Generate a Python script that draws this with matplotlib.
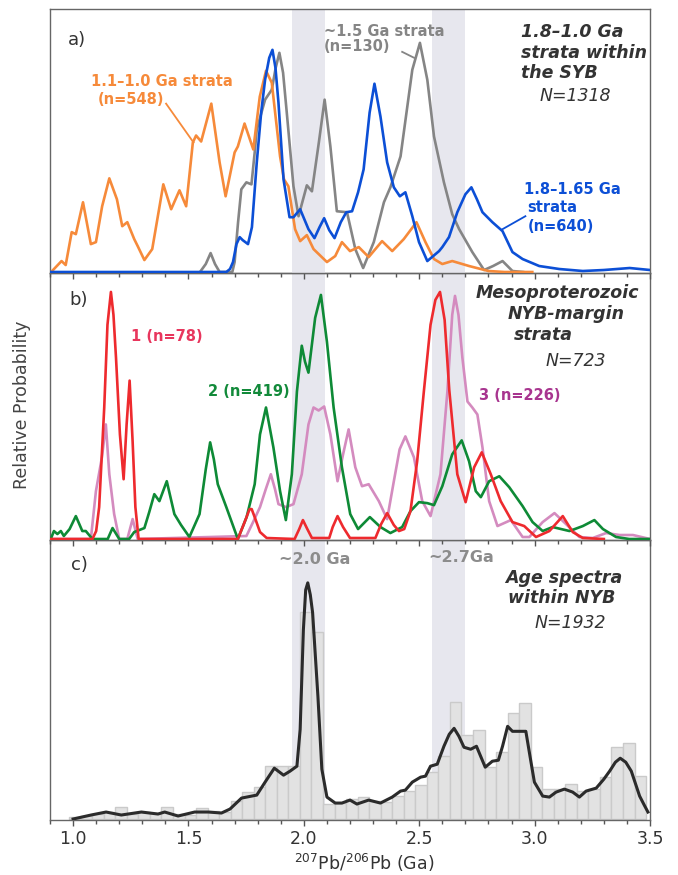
import matplotlib
matplotlib.use('Agg')
import matplotlib.pyplot as plt
from matplotlib.ticker import MultipleLocator

plt.rcParams['font.family'] = ['DejaVu Sans']
plt.rcParams['mathtext.default'] = 'regular'

# ---- panel a) 1.8-1.0 Ga strata within the SYB ----
a_orange_age = [0.905, 0.95, 0.968, 0.994, 1.012, 1.043, 1.077, 1.099, 1.126, 1.157, 1.19, 1.213, 1.235,
                1.265, 1.28, 1.309, 1.343, 1.391, 1.425, 1.461, 1.49, 1.519, 1.533, 1.555, 1.599, 1.635,
                1.661, 1.70, 1.714, 1.743, 1.781, 1.809, 1.836, 1.861, 1.897, 1.914, 1.933, 1.962, 1.984,
                2.013, 2.042, 2.10, 2.136, 2.165, 2.20, 2.238, 2.281, 2.339, 2.383, 2.433, 2.488, 2.527,
                2.564, 2.60, 2.643, 2.716, 2.80, 2.87, 2.99]
a_orange_val = [0, 11, 7, 40, 38, 70, 28, 30, 66, 94, 73, 46, 50,
                33, 26, 12, 23, 88, 63, 82, 66, 130, 137, 131, 169, 110,
                76, 120, 126, 149, 123, 176, 202, 190, 116, 93, 86, 43, 31,
                37, 23, 10, 16, 30, 21, 25, 15, 31, 21, 33, 50, 30,
                13, 8, 11, 6, 1, 0, 0]

a_gray_age = [1.55, 1.575, 1.596, 1.615, 1.635, 1.69, 1.70, 1.715, 1.729, 1.751, 1.773, 1.787, 1.796,
              1.832, 1.861, 1.878, 1.894, 1.91, 1.926, 1.955, 1.977, 2.013, 2.035, 2.065, 2.09, 2.115,
              2.143, 2.187, 2.223, 2.257, 2.303, 2.347, 2.375, 2.419, 2.47, 2.503, 2.535, 2.564, 2.607,
              2.643, 2.673, 2.73, 2.781, 2.82, 2.861, 2.904, 2.95]
a_gray_val = [0, 8, 19, 8, 0, 0, 10, 50, 83, 90, 88, 120, 143,
              173, 183, 205, 220, 200, 160, 86, 56, 87, 81, 130, 173, 126,
              61, 60, 23, 4, 30, 70, 85, 116, 203, 230, 193, 136, 90,
              58, 43, 20, 2, 6, 11, 1, 0]

a_blue_age = [0.905, 1.664, 1.68, 1.693, 1.708, 1.722, 1.735, 1.758, 1.775, 1.796, 1.815, 1.832, 1.85,
              1.864, 1.877, 1.89, 1.912, 1.938, 1.955, 1.984, 2.02, 2.046, 2.068, 2.088, 2.11, 2.133,
              2.16, 2.184, 2.209, 2.235, 2.259, 2.285, 2.306, 2.332, 2.361, 2.39, 2.416, 2.44, 2.47,
              2.499, 2.535, 2.586, 2.60, 2.629, 2.665, 2.70, 2.726, 2.75, 2.774, 2.817, 2.861, 2.904,
              2.948, 3.02, 3.107, 3.209, 3.30, 3.412, 3.50]
a_blue_val = [0, 0, 3, 10, 28, 35, 32, 28, 45, 110, 160, 193, 215,
              223, 205, 170, 93, 55, 55, 63, 43, 34, 45, 54, 42, 34,
              50, 60, 61, 80, 103, 160, 189, 156, 110, 85, 76, 80, 56,
              30, 11, 21, 25, 35, 60, 78, 85, 73, 60, 50, 41, 20,
              13, 6, 3, 1, 2, 4, 2]

# ---- panel b) Mesoproterozoic NYB-margin strata ----
b_red_age = [0.905, 1.084, 1.10, 1.113, 1.135, 1.149, 1.164, 1.175, 1.186, 1.203, 1.219, 1.232, 1.245,
             1.258, 1.27, 1.284, 1.714, 1.74, 1.765, 1.774, 1.79, 1.81, 1.839, 1.96, 1.98, 1.996,
             2.015, 2.035, 2.11, 2.125, 2.146, 2.17, 2.20, 2.31, 2.335, 2.361, 2.39, 2.412, 2.435,
             2.462, 2.491, 2.52, 2.549, 2.57, 2.59, 2.61, 2.63, 2.665, 2.701, 2.738, 2.771, 2.81,
             2.853, 2.904, 2.955, 3.006, 3.064, 3.122, 3.165, 3.209, 3.30]
b_red_val = [0, 0, 8, 32, 132, 215, 248, 225, 182, 105, 60, 115, 159,
             98, 32, 0, 0, 15, 30, 30, 20, 7, 1, 0, 10, 19,
             10, 1, 1, 12, 23, 12, 1, 1, 15, 26, 14, 8, 10,
             28, 78, 148, 215, 240, 248, 220, 150, 65, 37, 72, 87, 65,
             38, 17, 13, 2, 8, 23, 7, 1, 0]

b_green_age = [0.905, 0.917, 0.932, 0.947, 0.96, 0.985, 1.012, 1.04, 1.055, 1.084, 1.15, 1.171, 1.20,
               1.243, 1.265, 1.287, 1.309, 1.33, 1.352, 1.374, 1.406, 1.439, 1.468, 1.504, 1.548, 1.575,
               1.594, 1.61, 1.627, 1.664, 1.714, 1.752, 1.787, 1.81, 1.836, 1.868, 1.897, 1.922, 1.948,
               1.97, 1.991, 2.005, 2.02, 2.049, 2.074, 2.10, 2.129, 2.165, 2.201, 2.235, 2.286, 2.332,
               2.375, 2.426, 2.462, 2.499, 2.535, 2.564, 2.60, 2.643, 2.684, 2.716, 2.745, 2.767, 2.803,
               2.847, 2.89, 2.948, 2.991, 3.035, 3.078, 3.151, 3.209, 3.259, 3.296, 3.353, 3.41, 3.50]
b_green_val = [1, 8, 5, 8, 3, 10, 23, 8, 8, 0, 0, 11, 0,
               0, 7, 9, 11, 27, 45, 38, 58, 25, 14, 2, 25, 70,
               97, 80, 55, 32, 0, 22, 55, 105, 132, 92, 48, 19, 65,
               148, 194, 178, 167, 222, 245, 198, 132, 72, 25, 10, 22, 12,
               6, 12, 28, 37, 36, 34, 53, 85, 99, 78, 48, 42, 58,
               63, 52, 33, 17, 8, 12, 8, 13, 19, 10, 2, 0, 0]

b_pink_age = [0.905, 1.077, 1.099, 1.125, 1.142, 1.157, 1.178, 1.20, 1.235, 1.258, 1.28, 1.751, 1.78,
              1.81, 1.835, 1.857, 1.875, 1.89, 1.923, 1.955, 1.991, 2.02, 2.042, 2.064, 2.088, 2.115,
              2.146, 2.17, 2.194, 2.223, 2.252, 2.281, 2.325, 2.361, 2.39, 2.415, 2.44, 2.477, 2.513,
              2.549, 2.592, 2.622, 2.643, 2.655, 2.67, 2.687, 2.709, 2.73, 2.752, 2.774, 2.803, 2.839,
              2.897, 2.948, 2.977, 3.035, 3.086, 3.136, 3.194, 3.252, 3.31, 3.368, 3.426, 3.50]
b_pink_val = [0, 0, 48, 82, 115, 65, 25, 0, 0, 20, 0, 3, 17,
              32, 50, 65, 50, 35, 32, 35, 65, 115, 132, 129, 133, 105,
              58, 85, 110, 72, 53, 55, 38, 20, 58, 90, 103, 82, 38,
              23, 65, 148, 225, 244, 225, 182, 138, 132, 125, 92, 38, 13,
              19, 2, 2, 17, 26, 15, 2, 1, 6, 4, 4, 0]

# ---- panel c) Age spectra within NYB ----
c_curve_age = [1.0, 1.078, 1.143, 1.209, 1.296, 1.368, 1.397, 1.455, 1.527, 1.586, 1.643, 1.68, 1.73,
               1.796, 1.832, 1.872, 1.912, 1.94, 1.97, 1.984, 1.998, 2.008, 2.017, 2.028, 2.038, 2.061,
               2.078, 2.10, 2.136, 2.165, 2.20, 2.23, 2.281, 2.332, 2.383, 2.419, 2.44, 2.47, 2.506,
               2.527, 2.549, 2.578, 2.607, 2.63, 2.651, 2.672, 2.694, 2.723, 2.748, 2.786, 2.817, 2.843,
               2.861, 2.883, 2.904, 2.933, 2.962, 2.98, 2.999, 3.035, 3.064, 3.093, 3.129, 3.165, 3.194,
               3.223, 3.267, 3.30, 3.325, 3.35, 3.371, 3.395, 3.419, 3.455, 3.475, 3.491]
c_curve_val = [0, 4, 7, 4, 7, 5, 7, 3, 7, 7, 6, 10, 21,
               24, 37, 51, 44, 48, 53, 90, 190, 230, 237, 225, 207, 123,
               50, 22, 16, 16, 19, 15, 19, 16, 22, 28, 29, 37, 42,
               43, 53, 55, 73, 85, 91, 83, 72, 70, 73, 52, 58, 59,
               73, 93, 88, 88, 88, 63, 37, 23, 22, 27, 30, 27, 22,
               28, 31, 40, 48, 57, 61, 57, 48, 23, 14, 7]

c_bin_centers = [1.008 + 0.05 * i for i in range(50)]
c_bin_counts = [2, 3, 5, 7, 12, 5, 7, 6, 12, 5,
                4, 11, 8, 7, 18, 27, 32, 53, 53, 53,
                208, 188, 15, 16, 20, 22, 18, 17, 23, 28,
                34, 47, 63, 117, 84, 89, 52, 67, 106, 116,
                52, 30, 30, 35, 28, 30, 42, 72, 76, 43]

bands = [(1.95, 2.09), (2.555, 2.70)]

W, H = 678, 875
fig = plt.figure(figsize=(W / 100, H / 100), dpi=100)


def px_axes(top, bottom, left=50, right=650):
    return fig.add_axes([left / W, 1 - bottom / H, (right - left) / W, (bottom - top) / H])


axA = px_axes(9, 273)
axB = px_axes(273, 540)
axC = px_axes(540, 820)
tops = [264, 267, 280]

for ax, top in zip([axA, axB, axC], tops):
    ax.set_xlim(0.9, 3.5)
    ax.set_ylim(-1, top)
    for lo, hi in bands:
        ax.axvspan(lo, hi, color='#e7e7ee', lw=0, zorder=0)
    ax.set_yticks([])
    ax.xaxis.set_major_locator(MultipleLocator(0.5))
    ax.xaxis.set_minor_locator(MultipleLocator(0.1))
    ax.tick_params(axis='x', which='major', direction='out', length=4.5, width=1, color='#555555',
                   labelsize=12.5, labelcolor='#333333', pad=3)
    ax.tick_params(axis='x', which='minor', direction='out', length=3, width=1, color='#555555')
    for s in ax.spines.values():
        s.set_color('#666666')
        s.set_linewidth(1)
    ax.patch.set_alpha(0)

axA.tick_params(labelbottom=False)
axB.tick_params(labelbottom=False)
axA.set_zorder(3)
axB.set_zorder(2)
axC.set_zorder(1)

lw = 1.9
axA.plot(a_orange_age, a_orange_val, color='#f68a3a', lw=lw, solid_joinstyle='round', zorder=3)
axA.plot(a_gray_age, a_gray_val, color='#858585', lw=lw, solid_joinstyle='round', zorder=2)
axA.plot(a_blue_age, a_blue_val, color='#0c4fd6', lw=lw, solid_joinstyle='round', zorder=4)

axB.plot(b_pink_age, b_pink_val, color='#d48bbf', lw=lw, solid_joinstyle='round', zorder=2)
axB.plot(b_green_age, b_green_val, color='#0e8a36', lw=lw, solid_joinstyle='round', zorder=3)
axB.plot(b_red_age, b_red_val, color='#ee2a2e', lw=lw, solid_joinstyle='round', zorder=4)

axC.bar(c_bin_centers, c_bin_counts, width=0.05, color='#e2e2e2', edgecolor='#cacaca', lw=1, zorder=1)
axC.plot(c_curve_age, c_curve_val, color='#2b2b2b', lw=2.2, solid_joinstyle='round', zorder=3)

dark = '#333333'
lab = 10.5
big = 12.5
# panel a text
axA.text(0.978, 233, 'a)', fontsize=13, color=dark, va='center')
axA.text(1.383, 191, '1.1\u20131.0 Ga strata', fontsize=lab, fontweight='bold', color='#f68a3a',
         ha='center', va='center')
axA.text(1.252, 173, '(n=548)', fontsize=lab, fontweight='bold', color='#f68a3a', ha='center', va='center')
axA.plot([1.403, 1.522], [169, 130], color='#f68a3a', lw=1.3)
axA.text(2.087, 241, '~1.5 Ga strata', fontsize=lab, fontweight='bold', color='#858585', va='center')
axA.text(2.087, 226, '(n=130)', fontsize=lab, fontweight='bold', color='#858585', va='center')
axA.plot([2.426, 2.478], [221, 215], color='#858585', lw=1.3)
axA.text(2.955, 83, '1.8\u20131.65 Ga', fontsize=lab, fontweight='bold', color='#0c4fd6', va='center')
axA.text(2.97, 65, 'strata', fontsize=lab, fontweight='bold', color='#0c4fd6', va='center')
axA.text(2.97, 46, '(n=640)', fontsize=lab, fontweight='bold', color='#0c4fd6', va='center')
axA.plot([2.96, 2.861], [56, 43], color='#0c4fd6', lw=1.3)
for txt, h in [('1.8\u20131.0 Ga', 241), ('strata within', 220), ('the SYB', 200)]:
    axA.text(2.94, h, txt, fontsize=big, fontweight='bold', fontstyle='italic', color=dark, va='center')
axA.text(3.02, 177, 'N=1318', fontsize=big, fontstyle='italic', color=dark, va='center')

# panel b text
axB.text(0.983, 240, 'b)', fontsize=13, color=dark, va='center')
axB.text(1.251, 203, '1 (n=78)', fontsize=lab, fontweight='bold', color='#e8365d', va='center')
axB.text(1.586, 148, '2 (n=419)', fontsize=lab, fontweight='bold', color='#128a3a', va='center')
axB.text(2.76, 144, '3 (n=226)', fontsize=lab, fontweight='bold', color='#a8358f', va='center')
axB.text(2.745, 247, 'Mesoproterozoic', fontsize=big, fontweight='bold', fontstyle='italic', color=dark,
         va='center')
axB.text(2.883, 226, 'NYB-margin', fontsize=big, fontweight='bold', fontstyle='italic', color=dark, va='center')
axB.text(2.912, 205, 'strata', fontsize=big, fontweight='bold', fontstyle='italic', color=dark, va='center')
axB.text(3.048, 179, 'N=723', fontsize=big, fontstyle='italic', color=dark, va='center')

# panel c text
axC.text(0.991, 255, 'c)', fontsize=13, color=dark, va='center')
axC.text(2.048, 260, '~2.0 Ga', fontsize=11.5, fontweight='bold', color='#8c8c8c', ha='center', va='center')
axC.text(2.683, 262, '~2.7Ga', fontsize=11.5, fontweight='bold', color='#8c8c8c', ha='center', va='center')
axC.text(2.874, 242, 'Age spectra', fontsize=big, fontweight='bold', fontstyle='italic', color=dark, va='center')
axC.text(2.883, 222, 'within NYB', fontsize=big, fontweight='bold', fontstyle='italic', color=dark, va='center')
axC.text(3.0, 197, 'N=1932', fontsize=big, fontstyle='italic', color=dark, va='center')

fig.text(364 / W, 1 - 870 / H, '$^{207}$Pb/$^{206}$Pb (Ga)', fontsize=12.5, color=dark, ha='center',
         va='baseline')
fig.text(22 / W, 1 - 405 / H, 'Relative Probability', rotation=90, fontsize=12.5, color='#444444',
         ha='center', va='center')

fig.savefig('out.png', dpi=100)
